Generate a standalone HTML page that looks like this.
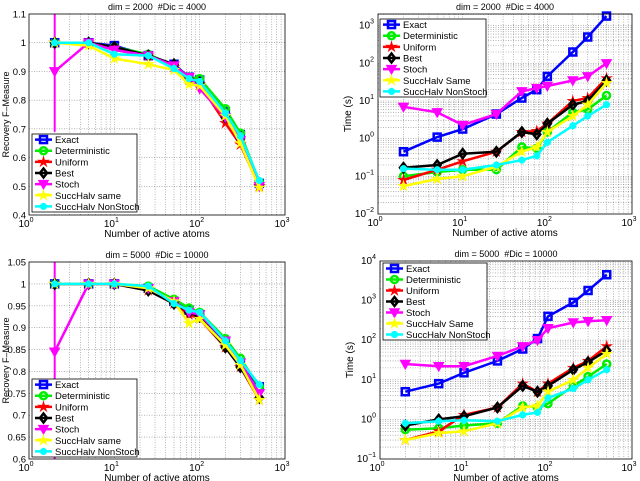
<!DOCTYPE html>
<html><head><meta charset="utf-8"><style>
body{margin:0;background:#fff;}
svg{display:block;font-family:"Liberation Sans",sans-serif;}
</style></head><body>
<svg id="c" width="640" height="481"></svg>
<script>
const xCats=[2,5,10,25,50,75,100,200,300,500];
const seriesNames=["Exact","Deterministic","Uniform","Best","Stoch","SuccHalv same","SuccHalv NonStoch"];
const seriesNames2=["Exact","Deterministic","Uniform","Best","Stoch","SuccHalv Same","SuccHalv NonStoch"];
const colors=["#0000ff","#00ee00","#ff0000","#000000","#ff00ff","#ffff00","#00ffff"];
const markers=["square","circle","star","diamond","tri","star","ast"];
// panel 1 F-measure dim2000
const f1Exact=[1,1,0.99,0.955,0.925,0.88,0.87,0.76,0.68,0.51];
const f1Det=[1,1,0.985,0.96,0.92,0.88,0.875,0.77,0.685,0.515];
const f1Uni=[1,1,0.975,0.955,0.915,0.87,0.855,0.72,0.645,0.50];
const f1Best=[1,1,0.985,0.955,0.925,0.875,0.86,0.74,0.665,0.505];
const f1Stoch=[0.9,1,0.975,0.955,0.92,0.88,0.84,0.74,0.66,0.5];
const f1Same=[1,0.99,0.945,0.925,0.905,0.855,0.85,0.745,0.65,0.495];
const f1Non=[1,1,0.96,0.955,0.91,0.875,0.865,0.755,0.675,0.52];
const f1StochErrLo=0.69, f1StochErrHi=1.1;
// panel 2 time dim2000
const t1Exact=[0.45,1.1,1.8,4.5,12,20,45,200,500,1800];
const t1Det=[0.1,0.13,0.15,0.15,0.6,0.55,1.5,5,6,14];
const t1Uni=[0.08,0.15,0.25,0.45,1.5,1.6,2.5,10,12,40];
const t1Best=[0.17,0.2,0.4,0.45,1.5,1.3,2.5,8,10,35];
const t1Stoch=[7,5,2.3,4.5,18,22,25,35,45,100];
const t1Same=[0.055,0.085,0.1,0.18,0.45,0.6,1.5,4,8,30];
const t1Non=[0.16,0.15,0.15,0.2,0.27,0.35,0.8,2.2,4,8];
// panel 3 F-measure dim5000
const f2Exact=[1,1,1,0.99,0.96,0.94,0.93,0.865,0.82,0.765];
const f2Det=[1,1,1,0.995,0.965,0.945,0.935,0.875,0.83,0.765];
const f2Uni=[1,1,1,0.985,0.955,0.93,0.92,0.855,0.81,0.735];
const f2Best=[1,1,1,0.985,0.955,0.935,0.925,0.855,0.81,0.74];
const f2Stoch=[0.845,1,1,0.99,0.96,0.935,0.93,0.87,0.82,0.75];
const f2Same=[1,1,1,0.99,0.96,0.91,0.92,0.86,0.815,0.735];
const f2Non=[1,1,1,0.995,0.955,0.94,0.935,0.87,0.825,0.77];
const f2StochErrLo=0.6, f2StochErrHi=1.05;
// panel 4 time dim5000
const t2Exact=[5,8,15,30,60,110,400,900,1800,4500];
const t2Det=[0.55,0.6,0.7,0.8,2.2,2,2.5,7,12,25];
const t2Uni=[0.3,0.5,1.3,2,8,5,8,20,30,70];
const t2Best=[0.7,1,1.2,2,7,5,7,18,28,55];
const t2Stoch=[25,22,22,40,70,100,200,280,300,320];
const t2Same=[0.3,0.45,0.5,0.8,2,2.2,5,10,20,45];
const t2Non=[0.8,0.9,0.95,0.9,1.3,1.5,3.5,6,10,18];
const fTicks1=[0.4,0.5,0.6,0.7,0.8,0.9,1,1.1];
const fTicks2=[0.6,0.65,0.7,0.75,0.8,0.85,0.9,0.95,1,1.05];

const NS="http://www.w3.org/2000/svg";
const svg=document.getElementById('c');
function mk(tag,at,parent){const e=document.createElementNS(NS,tag);for(const k in at)e.setAttribute(k,at[k]);(parent||svg).appendChild(e);return e;}

function marker(g,type,x,y,col,s){
  let e;
  if(type==="square")e=mk('rect',{x:x-s,y:y-s,width:2*s,height:2*s,fill:'none',stroke:col,'stroke-width':2.5},g);
  else if(type==="circle")e=mk('circle',{cx:x,cy:y,r:s,fill:'none',stroke:col,'stroke-width':2.5},g);
  else if(type==="diamond")e=mk('polygon',{points:`${x},${y-s-1} ${x+s},${y} ${x},${y+s+1} ${x-s},${y}`,fill:'none',stroke:col,'stroke-width':2.5},g);
  else if(type==="tri")e=mk('polygon',{points:`${x-s-1},${y-s} ${x+s+1},${y-s} ${x},${y+s+1}`,fill:col,stroke:col,'stroke-width':1.5},g);
  else if(type==="star"){let p=[];for(let i=0;i<10;i++){const r=i%2?s*0.5:s*1.4;const a=-Math.PI/2+i*Math.PI/5;p.push((x+r*Math.cos(a)).toFixed(1)+","+(y+r*Math.sin(a)).toFixed(1));}e=mk('polygon',{points:p.join(' '),fill:col,stroke:col,'stroke-width':1},g);}
  else {e=mk('path',{d:`M${x-s} ${y}H${x+s}M${x} ${y-s}V${y+s}M${x-s*.7} ${y-s*.7}L${x+s*.7} ${y+s*.7}M${x-s*.7} ${y+s*.7}L${x+s*.7} ${y-s*.7}`,stroke:col,'stroke-width':2.5},g);}
  
  
}

function panel(o){
  const g=mk('g',{});
  
  
  const {L,R,T,B}=o;
  const X=v=>L+(Math.log10(v)-0)/3*(R-L);
  const Y=o.log?(v=>B-(Math.log10(v)-o.y0)/(o.y1-o.y0)*(B-T)):(v=>B-(v-o.y0)/(o.y1-o.y0)*(B-T));
  mk('rect',{x:L,y:T,width:R-L,height:B-T,fill:'#fff'},g);
  for(let d=0;d<3;d++)for(let m=1;m<10;m++){const v=Math.pow(10,d)*m;if(v===1)continue;const x=X(v);
    mk('line',{x1:x,x2:x,y1:T,y2:B,stroke:'#888','stroke-width':0.6,'stroke-dasharray':'1,1.5'},g);}
  if(o.log){for(let d=o.y0;d<Math.ceil(o.y1);d++)for(let m=1;m<10;m++){const v=Math.pow(10,d)*m;const y=Y(v);if(y<T||y>=B)continue;
    mk('line',{x1:L,x2:R,y1:y,y2:y,stroke:'#888','stroke-width':0.6,'stroke-dasharray':'1,1.5'},g);}}
  else{o.ticks.forEach(v=>{const y=Y(v);if(y>T+0.5&&y<B-0.5)mk('line',{x1:L,x2:R,y1:y,y2:y,stroke:'#888','stroke-width':0.6,'stroke-dasharray':'1,1.5'},g);});}
  if(o.log){for(let d=o.y0;d<=Math.floor(o.y1);d++){const y=Y(Math.pow(10,d));
    const t=mk('text',{x:L-4,y:y+3,'text-anchor':'end','font-size':10},g);t.textContent='10';
    const s=mk('tspan',{dy:-5,'font-size':7},t);s.textContent=String(d).replace('-','\u2212');}}
  else o.ticks.forEach(v=>{const t=mk('text',{x:L-3,y:Y(v)+3.5,'text-anchor':'end','font-size':9.5},g);t.textContent=String(v);});
  for(let d=0;d<=3;d++){const t=mk('text',{x:X(Math.pow(10,d))-3,y:B+12,'text-anchor':'middle','font-size':10},g);t.textContent='10';const s=mk('tspan',{dy:-5,'font-size':7},t);s.textContent=d;}
  const tt=mk('text',{x:(L+R)/2,y:T-4,'text-anchor':'middle','font-size':9},g);tt.textContent=o.title;
  
  const xl=mk('text',{x:(L+R)/2,y:B+22,'text-anchor':'middle','font-size':10},g);xl.textContent='Number of active atoms';
  
  const yl=mk('text',{x:0,y:0,transform:`translate(${o.yl},${(T+B)/2}) rotate(-90)`,'text-anchor':'middle','font-size':o.ylf||10},g);yl.textContent=o.ylab;
  
  if(o.err){const x=X(xCats[0]);mk('line',{x1:x,x2:x,y1:Math.max(T,Y(o.err[1])),y2:Math.min(B,Y(o.err[0])),stroke:colors[4],'stroke-width':2},g);}
  o.data.forEach((arr,si)=>{
    const sg=mk('g',{},g);
    
    
    const pts=arr.map((v,i)=>X(xCats[i]).toFixed(1)+','+Y(v).toFixed(1)).join(' ');
    mk('polyline',{points:pts,fill:'none',stroke:colors[si],'stroke-width':2.5},sg);
    arr.forEach((v,i)=>marker(sg,markers[si],X(xCats[i]),Y(v),colors[si],3.5));
  });
  mk('rect',{x:L,y:T,width:R-L,height:B-T,fill:'none',stroke:'#000','stroke-width':0.8},g);
  const lg=mk('g',{},g);
  
  const [lx,ly,lw,lh]=o.leg;
  mk('rect',{x:lx,y:ly,width:lw,height:lh,fill:'#fff',stroke:'#000','stroke-width':0.8},lg);
  const step=lh/7;
  o.names.forEach((n,i)=>{const y=ly+step*(i+0.5);
    const eg=mk('g',{},lg);
    mk('line',{x1:lx+3,x2:lx+20,y1:y,y2:y,stroke:colors[i],'stroke-width':2.5},eg);
    marker(eg,markers[i],lx+11.5,y,colors[i],3.5);
    const t=mk('text',{x:lx+23,y:y+3.5,'font-size':9.5},eg);t.textContent=n;});
}
panel({name:'panel-fmeasure-2000',L:29,R:285,T:14,B:215,y0:0.4,y1:1.1,ticks:fTicks1,title:'dim = 2000\u00a0 #Dic = 4000',ylab:'Recovery F\u2013Measure',yl:9,ylf:9,
 data:[f1Exact,f1Det,f1Uni,f1Best,f1Stoch,f1Same,f1Non],err:[f1StochErrLo,f1StochErrHi],leg:[32,134,105,78],names:seriesNames});
panel({name:'panel-time-2000',L:378,R:632,T:14,B:214,log:true,y0:-2,y1:3.31,title:'dim = 2000\u00a0 #Dic = 4000',ylab:'Time (s)',yl:351,
 data:[t1Exact,t1Det,t1Uni,t1Best,t1Stoch,t1Same,t1Non],leg:[380,19,106,78],names:seriesNames2});
panel({name:'panel-fmeasure-5000',L:29,R:285,T:262,B:459,y0:0.6,y1:1.05,ticks:fTicks2,title:'dim = 5000\u00a0 #Dic = 10000',ylab:'Recovery F\u2013Measure',yl:9,ylf:9,
 data:[f2Exact,f2Det,f2Uni,f2Best,f2Stoch,f2Same,f2Non],err:[f2StochErrLo,f2StochErrHi],leg:[32,379,105,78],names:seriesNames});
panel({name:'panel-time-5000',L:380,R:632,T:261,B:459,log:true,y0:-1,y1:4,title:'dim = 5000\u00a0 #Dic = 10000',ylab:'Time (s)',yl:353,
 data:[t2Exact,t2Det,t2Uni,t2Best,t2Stoch,t2Same,t2Non],leg:[383,263,104,77],names:seriesNames2});
</script>
</body></html>
